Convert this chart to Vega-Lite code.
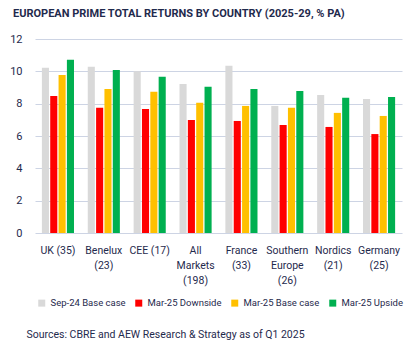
{
  "$schema": "https://vega.github.io/schema/vega-lite/v6.json",
  "width": 367,
  "height": 194,
  "autosize": {"type": "none"},
  "padding": {"left": 35, "top": 39, "right": 10, "bottom": 120},
  "background": "white",
  "title": {
    "text": "EUROPEAN PRIME TOTAL RETURNS BY COUNTRY (2025-29, % PA)",
    "anchor": "start",
    "frame": "group",
    "dx": -22,
    "offset": 14,
    "font": "Roboto",
    "fontSize": 11,
    "fontWeight": "bold",
    "color": "#1f2a4d"
  },
  "config": {
    "view": {"stroke": null},
    "font": "Roboto"
  },
  "data": {
    "values": [
      {"c": "UK (35)", "s": "Sep-24 Base case", "v": 10.22},
      {"c": "UK (35)", "s": "Mar-25 Downside", "v": 8.48},
      {"c": "UK (35)", "s": "Mar-25 Base case", "v": 9.78},
      {"c": "UK (35)", "s": "Mar-25 Upside", "v": 10.71},
      {"c": "Benelux|(23)", "s": "Sep-24 Base case", "v": 10.28},
      {"c": "Benelux|(23)", "s": "Mar-25 Downside", "v": 7.74},
      {"c": "Benelux|(23)", "s": "Mar-25 Base case", "v": 8.91},
      {"c": "Benelux|(23)", "s": "Mar-25 Upside", "v": 10.09},
      {"c": "CEE (17)", "s": "Sep-24 Base case", "v": 10.0},
      {"c": "CEE (17)", "s": "Mar-25 Downside", "v": 7.67},
      {"c": "CEE (17)", "s": "Mar-25 Base case", "v": 8.73},
      {"c": "CEE (17)", "s": "Mar-25 Upside", "v": 9.66},
      {"c": "All|Markets|(198)", "s": "Sep-24 Base case", "v": 9.22},
      {"c": "All|Markets|(198)", "s": "Mar-25 Downside", "v": 6.99},
      {"c": "All|Markets|(198)", "s": "Mar-25 Base case", "v": 8.05},
      {"c": "All|Markets|(198)", "s": "Mar-25 Upside", "v": 9.04},
      {"c": "France|(33)", "s": "Sep-24 Base case", "v": 10.34},
      {"c": "France|(33)", "s": "Mar-25 Downside", "v": 6.93},
      {"c": "France|(33)", "s": "Mar-25 Base case", "v": 7.86},
      {"c": "France|(33)", "s": "Mar-25 Upside", "v": 8.91},
      {"c": "Southern|Europe|(26)", "s": "Sep-24 Base case", "v": 7.86},
      {"c": "Southern|Europe|(26)", "s": "Mar-25 Downside", "v": 6.68},
      {"c": "Southern|Europe|(26)", "s": "Mar-25 Base case", "v": 7.74},
      {"c": "Southern|Europe|(26)", "s": "Mar-25 Upside", "v": 8.79},
      {"c": "Nordics|(21)", "s": "Sep-24 Base case", "v": 8.54},
      {"c": "Nordics|(21)", "s": "Mar-25 Downside", "v": 6.56},
      {"c": "Nordics|(21)", "s": "Mar-25 Base case", "v": 7.43},
      {"c": "Nordics|(21)", "s": "Mar-25 Upside", "v": 8.36},
      {"c": "Germany|(25)", "s": "Sep-24 Base case", "v": 8.29},
      {"c": "Germany|(25)", "s": "Mar-25 Downside", "v": 6.12},
      {"c": "Germany|(25)", "s": "Mar-25 Base case", "v": 7.24},
      {"c": "Germany|(25)", "s": "Mar-25 Upside", "v": 8.42}
    ]
  },
  "mark": {"type": "bar"},
  "encoding": {
    "x": {
      "field": "c",
      "type": "nominal",
      "sort": null,
      "scale": {"paddingInner": 0.3, "paddingOuter": 0.15},
      "axis": {
        "labelExpr": "split(datum.label, '|')",
        "labelAngle": 0,
        "labelFontSize": 10.5,
        "labelColor": "#1f2a4d",
        "labelLineHeight": 15,
        "labelPadding": 12,
        "ticks": false,
        "domain": false,
        "title": "Sources: CBRE and AEW Research & Strategy as of Q1 2025",
        "titleAnchor": "start",
        "titleAlign": "left",
        "titleX": -9,
        "titleY": 96,
        "titleFontSize": 10.5,
        "titleFontWeight": "normal",
        "titleColor": "#1f2a4d"
      }
    },
    "xOffset": {
      "field": "s",
      "type": "nominal",
      "sort": ["Sep-24 Base case", "Mar-25 Downside", "Mar-25 Base case", "Mar-25 Upside"],
      "scale": {"paddingInner": 0.15}
    },
    "y": {
      "field": "v",
      "type": "quantitative",
      "scale": {"domain": [0, 12]},
      "axis": {
        "values": [0, 2, 4, 6, 8, 10, 12],
        "title": null,
        "ticks": false,
        "domain": false,
        "labelPadding": 13,
        "labelFontSize": 11,
        "labelColor": "#1f2a4d",
        "gridColor": "#cdd4e4",
        "gridWidth": 1
      }
    },
    "color": {
      "field": "s",
      "type": "nominal",
      "sort": ["Sep-24 Base case", "Mar-25 Downside", "Mar-25 Base case", "Mar-25 Upside"],
      "scale": {
        "domain": ["Sep-24 Base case", "Mar-25 Downside", "Mar-25 Base case", "Mar-25 Upside"],
        "range": ["#d9d9d9", "#ff0000", "#ffc000", "#00b050"]
      },
      "legend": {
        "title": null,
        "orient": "none",
        "direction": "horizontal",
        "legendX": 2,
        "legendY": 259,
        "symbolType": "square",
        "symbolSize": 49,
        "symbolStrokeWidth": 0,
        "labelFontSize": 9.5,
        "labelColor": "#1f2a4d",
        "columnPadding": 8,
        "labelOffset": 4
      }
    }
  }
}
